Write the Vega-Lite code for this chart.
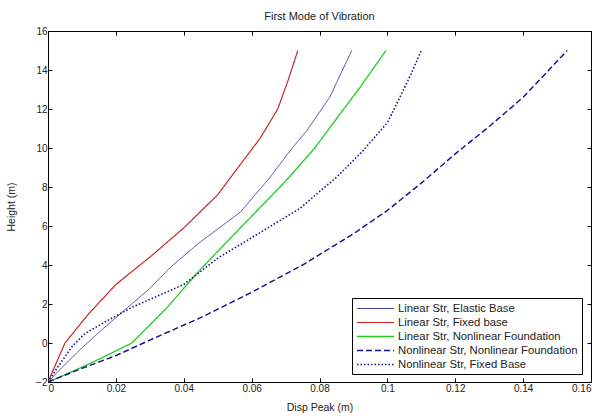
{
  "$schema": "https://vega.github.io/schema/vega-lite/v6.json",
  "autosize": "none",
  "width": 543,
  "height": 351,
  "padding": {"left": 48, "top": 31, "right": 12, "bottom": 34},
  "background": "white",
  "title": {"text": "First Mode of Vibration", "fontSize": 11, "font": "Liberation Sans", "fontWeight": "normal", "color": "#222", "offset": 4},
  "config": {
    "view": {"stroke": "black", "strokeWidth": 1},
    "axis": {"grid": false, "domainColor": "black", "tickColor": "black", "labelFont": "Liberation Sans", "labelFontSize": 10, "labelColor": "#222", "titleFont": "Liberation Sans", "titleFontSize": 10.5, "titleFontWeight": "normal", "titleColor": "#222", "tickSize": -4, "labelPadding": 5}
  },
  "data": {"values": [
    {"s": "Linear Str, Elastic Base", "x": 0, "y": -2},
    {"s": "Linear Str, Elastic Base", "x": 0.005, "y": -1.1},
    {"s": "Linear Str, Elastic Base", "x": 0.0103, "y": -0.2},
    {"s": "Linear Str, Elastic Base", "x": 0.016, "y": 0.7},
    {"s": "Linear Str, Elastic Base", "x": 0.022, "y": 1.6},
    {"s": "Linear Str, Elastic Base", "x": 0.03, "y": 2.8},
    {"s": "Linear Str, Elastic Base", "x": 0.0368, "y": 4.0},
    {"s": "Linear Str, Elastic Base", "x": 0.045, "y": 5.2},
    {"s": "Linear Str, Elastic Base", "x": 0.0566, "y": 6.7},
    {"s": "Linear Str, Elastic Base", "x": 0.065, "y": 8.4},
    {"s": "Linear Str, Elastic Base", "x": 0.0722, "y": 10.05},
    {"s": "Linear Str, Elastic Base", "x": 0.0763, "y": 10.9},
    {"s": "Linear Str, Elastic Base", "x": 0.083, "y": 12.6},
    {"s": "Linear Str, Elastic Base", "x": 0.0895, "y": 15},
    {"s": "Linear Str, Fixed base", "x": 0, "y": -2},
    {"s": "Linear Str, Fixed base", "x": 0.005, "y": 0},
    {"s": "Linear Str, Fixed base", "x": 0.012, "y": 1.5},
    {"s": "Linear Str, Fixed base", "x": 0.02, "y": 3.0},
    {"s": "Linear Str, Fixed base", "x": 0.03, "y": 4.4},
    {"s": "Linear Str, Fixed base", "x": 0.04, "y": 5.9},
    {"s": "Linear Str, Fixed base", "x": 0.05, "y": 7.6},
    {"s": "Linear Str, Fixed base", "x": 0.056, "y": 9.0},
    {"s": "Linear Str, Fixed base", "x": 0.0625, "y": 10.5},
    {"s": "Linear Str, Fixed base", "x": 0.0677, "y": 12.0},
    {"s": "Linear Str, Fixed base", "x": 0.0708, "y": 13.5},
    {"s": "Linear Str, Fixed base", "x": 0.0736, "y": 15},
    {"s": "Linear Str, Nonlinear Foundation", "x": 0, "y": -2},
    {"s": "Linear Str, Nonlinear Foundation", "x": 0.008, "y": -1.4},
    {"s": "Linear Str, Nonlinear Foundation", "x": 0.016, "y": -0.75},
    {"s": "Linear Str, Nonlinear Foundation", "x": 0.0247, "y": 0},
    {"s": "Linear Str, Nonlinear Foundation", "x": 0.035, "y": 1.8},
    {"s": "Linear Str, Nonlinear Foundation", "x": 0.0435, "y": 3.5},
    {"s": "Linear Str, Nonlinear Foundation", "x": 0.05, "y": 4.7},
    {"s": "Linear Str, Nonlinear Foundation", "x": 0.06, "y": 6.5},
    {"s": "Linear Str, Nonlinear Foundation", "x": 0.07, "y": 8.3},
    {"s": "Linear Str, Nonlinear Foundation", "x": 0.0786, "y": 10},
    {"s": "Linear Str, Nonlinear Foundation", "x": 0.085, "y": 11.5},
    {"s": "Linear Str, Nonlinear Foundation", "x": 0.0919, "y": 13.1},
    {"s": "Linear Str, Nonlinear Foundation", "x": 0.0996, "y": 15},
    {"s": "Nonlinear Str, Nonlinear Foundation", "x": 0, "y": -2},
    {"s": "Nonlinear Str, Nonlinear Foundation", "x": 0.01, "y": -1.3},
    {"s": "Nonlinear Str, Nonlinear Foundation", "x": 0.02, "y": -0.65},
    {"s": "Nonlinear Str, Nonlinear Foundation", "x": 0.03, "y": 0.15},
    {"s": "Nonlinear Str, Nonlinear Foundation", "x": 0.045, "y": 1.3},
    {"s": "Nonlinear Str, Nonlinear Foundation", "x": 0.06, "y": 2.6},
    {"s": "Nonlinear Str, Nonlinear Foundation", "x": 0.075, "y": 4.0},
    {"s": "Nonlinear Str, Nonlinear Foundation", "x": 0.09, "y": 5.6},
    {"s": "Nonlinear Str, Nonlinear Foundation", "x": 0.1, "y": 6.8},
    {"s": "Nonlinear Str, Nonlinear Foundation", "x": 0.11, "y": 8.2},
    {"s": "Nonlinear Str, Nonlinear Foundation", "x": 0.12, "y": 9.7},
    {"s": "Nonlinear Str, Nonlinear Foundation", "x": 0.13, "y": 11.1},
    {"s": "Nonlinear Str, Nonlinear Foundation", "x": 0.14, "y": 12.6},
    {"s": "Nonlinear Str, Nonlinear Foundation", "x": 0.1465, "y": 13.8},
    {"s": "Nonlinear Str, Nonlinear Foundation", "x": 0.153, "y": 15},
    {"s": "Nonlinear Str, Fixed Base", "x": 0, "y": -2},
    {"s": "Nonlinear Str, Fixed Base", "x": 0.003, "y": -1.2},
    {"s": "Nonlinear Str, Fixed Base", "x": 0.007, "y": -0.2},
    {"s": "Nonlinear Str, Fixed Base", "x": 0.011, "y": 0.5},
    {"s": "Nonlinear Str, Fixed Base", "x": 0.017, "y": 1.1},
    {"s": "Nonlinear Str, Fixed Base", "x": 0.025, "y": 1.85},
    {"s": "Nonlinear Str, Fixed Base", "x": 0.04, "y": 3.0},
    {"s": "Nonlinear Str, Fixed Base", "x": 0.05, "y": 4.35},
    {"s": "Nonlinear Str, Fixed Base", "x": 0.06, "y": 5.4},
    {"s": "Nonlinear Str, Fixed Base", "x": 0.0742, "y": 6.9},
    {"s": "Nonlinear Str, Fixed Base", "x": 0.085, "y": 8.5},
    {"s": "Nonlinear Str, Fixed Base", "x": 0.0925, "y": 9.8},
    {"s": "Nonlinear Str, Fixed Base", "x": 0.1, "y": 11.3},
    {"s": "Nonlinear Str, Fixed Base", "x": 0.1037, "y": 12.6},
    {"s": "Nonlinear Str, Fixed Base", "x": 0.107, "y": 13.8},
    {"s": "Nonlinear Str, Fixed Base", "x": 0.11, "y": 15}
  ]},
  "resolve": {"axis": {"x": "independent", "y": "independent"}},
  "layer": [
    {
      "mark": {"type": "line", "clip": true},
      "encoding": {
        "x": {"field": "x", "type": "quantitative", "scale": {"domain": [0, 0.16], "nice": false, "zero": false}, "axis": {"title": "Disp Peak (m)", "values": [0, 0.02, 0.04, 0.06, 0.08, 0.1, 0.12, 0.14, 0.16], "format": "~g", "titlePadding": 9}},
        "y": {"field": "y", "type": "quantitative", "scale": {"domain": [-2, 16], "nice": false, "zero": false}, "axis": {"title": "Height (m)", "values": [-2, 0, 2, 4, 6, 8, 10, 12, 14, 16], "titlePadding": 19}},
        "color": {"field": "s", "type": "nominal", "scale": {"domain": ["Linear Str, Elastic Base", "Linear Str, Fixed base", "Linear Str, Nonlinear Foundation", "Nonlinear Str, Nonlinear Foundation", "Nonlinear Str, Fixed Base"], "range": ["#4848a0", "#c42222", "#22cc22", "#14148a", "#14148a"]},
          "legend": {"title": null, "orient": "none", "legendX": 304, "legendY": 267, "fillColor": "white", "strokeColor": "black", "padding": 4, "labelFont": "Liberation Sans", "labelFontSize": 11.3, "labelColor": "#222", "labelLimit": 400, "symbolSize": 1369, "rowPadding": 2, "labelOffset": 3,
            "encode": {"symbols": {"update": {"y": {"value": 6.5}}}, "labels": {"update": {"y": {"value": 6.5}}}}}},
        "strokeDash": {"field": "s", "type": "nominal", "scale": {"domain": ["Linear Str, Elastic Base", "Linear Str, Fixed base", "Linear Str, Nonlinear Foundation", "Nonlinear Str, Nonlinear Foundation", "Nonlinear Str, Fixed Base"], "range": [[1, 0], [1, 0], [1, 0], [6, 3], [1.5, 2]]}, "legend": {"title": null}},
        "strokeWidth": {"field": "s", "type": "nominal", "scale": {"domain": ["Linear Str, Elastic Base", "Linear Str, Fixed base", "Linear Str, Nonlinear Foundation", "Nonlinear Str, Nonlinear Foundation", "Nonlinear Str, Fixed Base"], "range": [1, 1.6, 2.2, 2.2, 2.2]}, "legend": {"title": null}}
      }
    },
    {
      "mark": {"type": "line", "strokeOpacity": 0},
      "encoding": {
        "x": {"field": "x", "type": "quantitative", "scale": {"domain": [0, 0.16], "nice": false, "zero": false}, "axis": {"orient": "top", "title": null, "labels": false, "values": [0, 0.02, 0.04, 0.06, 0.08, 0.1, 0.12, 0.14, 0.16]}},
        "y": {"field": "y", "type": "quantitative", "scale": {"domain": [-2, 16], "nice": false, "zero": false}, "axis": {"orient": "right", "title": null, "labels": false, "values": [-2, 0, 2, 4, 6, 8, 10, 12, 14, 16]}},
        "detail": {"field": "s"}
      }
    }
  ]
}
